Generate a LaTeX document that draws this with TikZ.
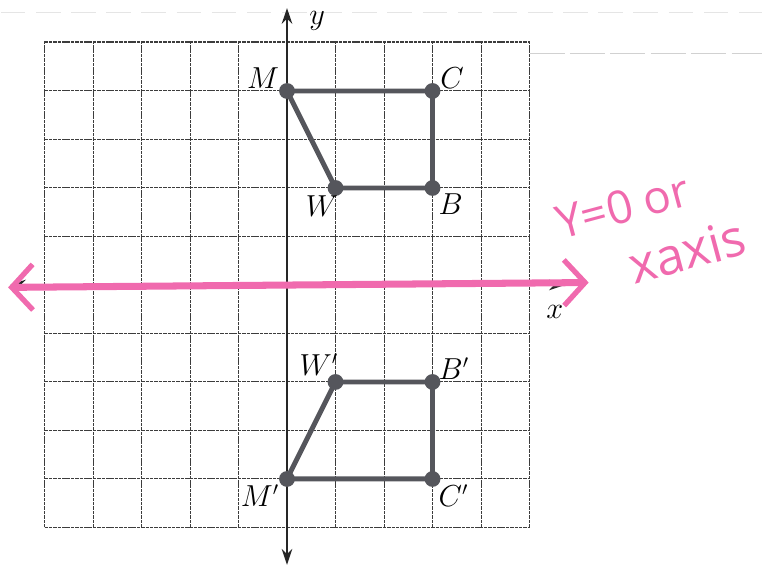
\documentclass[tikz,border=0pt]{standalone}
\usepackage{fontspec}
\usepackage{xcolor}
\definecolor{colGrid}{HTML}{3C3C3C}
\definecolor{colShape}{HTML}{55565C}
\definecolor{colPink}{HTML}{F06AAE}
\newfontfamily\handfont{Open Sans}
\usepackage{tikz}
\usetikzlibrary{arrows.meta, positioning}

\tikzset{
  gridline/.style={colGrid, line width=0.55pt, dash pattern=on 2pt off 0.5pt},
  axisline/.style={black!85, line width=1.1pt, {Stealth[length=9pt,width=6pt]}-{Stealth[length=9pt,width=6pt]}},
  edge/.style={colShape, line width=2.8pt, line join=round},
  vertex/.style={circle, fill=colShape, inner sep=0pt, minimum size=9pt},
  ptlabel/.style={font=\fontsize{16}{18}\selectfont, inner sep=1pt},
  pinkline/.style={colPink, line width=4pt, line cap=round,
    {Straight Barb[length=12pt,width=26pt,line width=3pt]}-{Straight Barb[length=12pt,width=26pt,line width=3pt]}},
  pinktext/.style={colPink, inner sep=0pt, rotate=15}
}

\begin{document}
\begin{tikzpicture}[x=0.97cm, y=0.97cm]
        \useasboundingbox (-5.918,-5.856) rectangle (9.794,5.876);

        % === scan marks at the top ===
        \draw[black!10, line width=0.6pt, dash pattern=on 14pt off 6pt] (-5.9,5.62) -- (9.79,5.62);
        \draw[black!18, line width=0.6pt, dash pattern=on 20pt off 3pt] (5.0,4.77) -- (9.79,4.77);

        % === Grid (-5..5) ===
        \foreach \k in {-5,...,5} {
            \draw[gridline] (\k,-5) -- (\k,5.03);
            \draw[gridline] (-5,\k) -- (5,\k);
        }
        \draw[gridline] (-5,5.03) -- (5,5.03);

        % === Axes ===
        \draw[axisline] (-5.71,0) -- (5.73,0);
        \draw[axisline] (0,-5.77) -- (0,5.71);
        \node[ptlabel] (ylab) at (0.62,5.45) {$y$};
        \node[ptlabel] (xlab) at (5.52,-0.55) {$x$};

        % === Pre-image MCBW ===
        \coordinate (M) at (0,4);
        \coordinate (C) at (3,4);
        \coordinate (B) at (3,2);
        \coordinate (W) at (1,2);
        \draw[edge] (M) -- (C) -- (B) -- (W) -- cycle;
        \node[vertex] (vM) at (M) {};
        \node[vertex] (vC) at (C) {};
        \node[vertex] (vB) at (B) {};
        \node[vertex] (vW) at (W) {};
        \node[ptlabel, above left=-3pt and 0pt of vM] (lM) {$M$};
        \node[ptlabel, above right=-3pt and 0pt of vC] (lC) {$C$};
        \node[ptlabel, below right=-1pt and -1pt of vB] (lB) {$B$};
        \node[ptlabel, below left=0pt and -6pt of vW] (lW) {$W$};

        % === Image M'C'B'W' ===
        \coordinate (M1) at (0,-4);
        \coordinate (C1) at (3,-4);
        \coordinate (B1) at (3,-2);
        \coordinate (W1) at (1,-2);
        \draw[edge] (M1) -- (C1) -- (B1) -- (W1) -- cycle;
        \node[vertex] (vM1) at (M1) {};
        \node[vertex] (vC1) at (C1) {};
        \node[vertex] (vB1) at (B1) {};
        \node[vertex] (vW1) at (W1) {};
        \node[ptlabel, below left=-1pt and 0pt of vM1] (lM1) {$M'$};
        \node[ptlabel, below right=-1pt and -1pt of vC1] (lC1) {$C'$};
        \node[ptlabel, above right=-3pt and -1pt of vB1] (lB1) {$B'$};
        \node[ptlabel, above left=-1pt and -6pt of vW1] (lW1) {$W'$};

        % === Pink annotation (line of reflection) ===
        \coordinate (pL) at (-5.75,-0.05);
        \coordinate (pR) at (6.22,0.05);
        \draw[pinkline] (pL) -- (pR);
        \node[pinktext, font=\handfont\fontsize{26}{28}\selectfont] (t1) at (6.92,1.62) {Y=0 or};
        \node[pinktext, font=\handfont\fontsize{29}{31}\selectfont] (t2) at (8.25,0.70) {xaxis};
    \end{tikzpicture}
\end{document}
